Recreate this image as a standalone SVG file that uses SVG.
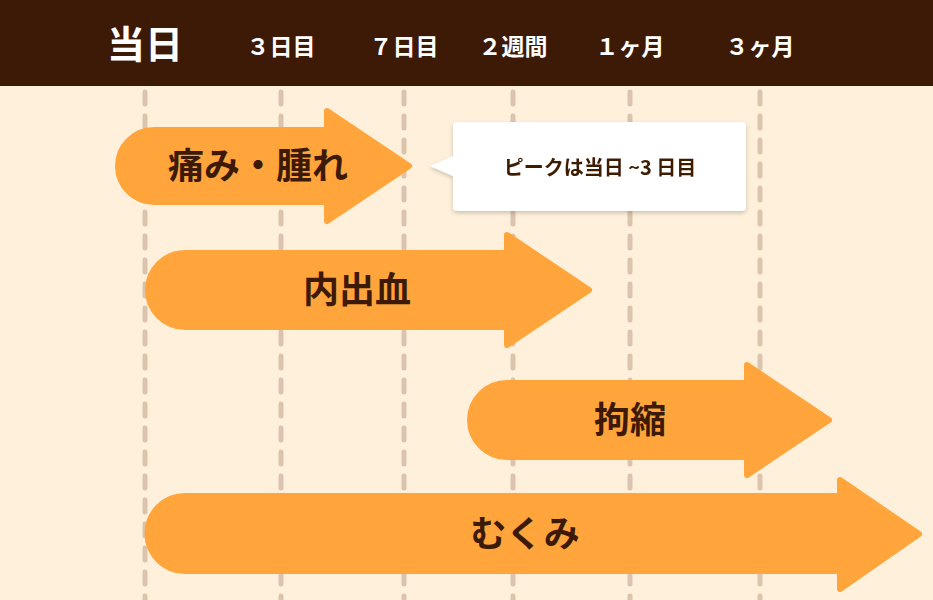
<svg xmlns="http://www.w3.org/2000/svg" width="933" height="600" viewBox="0 0 933 600">
<style>
.grid{stroke:#dcc3ae;stroke-width:5;stroke-dasharray:12 12;stroke-linecap:round}
.arr{fill:#ffa53c;stroke:#ffa53c;stroke-width:6;stroke-linejoin:round}
.hd{font-family:"Noto Sans CJK JP",sans-serif;font-weight:bold;fill:#fff;text-anchor:middle}
.lb{font-family:"Noto Sans CJK JP",sans-serif;font-weight:bold;fill:#3d1a05;text-anchor:middle;font-size:36px}
</style>
<defs><filter id="sh" x="-10%" y="-10%" width="120%" height="130%"><feDropShadow dx="0" dy="2" stdDeviation="2" flood-opacity="0.2"/></filter></defs>
<rect width="933" height="600" fill="#fff0db"/>
<g id="grid">
<line class="grid" x1="145" y1="92" x2="145" y2="600"/>
<line class="grid" x1="281" y1="92" x2="281" y2="600"/>
<line class="grid" x1="404" y1="92" x2="404" y2="600"/>
<line class="grid" x1="513" y1="92" x2="513" y2="600"/>
<line class="grid" x1="630" y1="92" x2="630" y2="600"/>
<line class="grid" x1="760" y1="92" x2="760" y2="600"/>
</g>
<g id="header">
<rect width="933" height="86" fill="#3d1a05"/>
<text class="hd" x="145" y="58" font-size="38">当日</text>
<text class="hd" x="281" y="55" font-size="23">３日目</text>
<text class="hd" x="404" y="55" font-size="23">７日目</text>
<text class="hd" x="513" y="55" font-size="23">２週間</text>
<text class="hd" x="630" y="55" font-size="23">１ヶ月</text>
<text class="hd" x="760" y="55" font-size="23">３ヶ月</text>
</g>
<g id="connectors"></g>
<g id="n1">
<path class="arr" d="M154,130 H327 V111 L409,166 L327,221 V202 H154 A36,36 0 0 1 154,130 Z"/>
<text class="lb" x="258" y="179">痛み・腫れ</text>
</g>
<g id="callout" filter="url(#sh)">
<path d="M458,122 H742 Q746,122 746,126 V207 Q746,211 742,211 H458 Q453,211 453,207 V176 L430,166 L453,156 V126 Q453,122 458,122 Z" fill="#fff"/>
<text x="600" y="175" font-family="Noto Sans CJK JP,sans-serif" font-weight="bold" font-size="20" fill="#3d1a05" text-anchor="middle">ピークは当日 ~3 日目</text>
</g>
<g id="n2">
<path class="arr" d="M185,253 H507 V235 L589,290 L507,345 V327 H185 A37,37 0 0 1 185,253 Z"/>
<text class="lb" x="357" y="303">内出血</text>
</g>
<g id="n3">
<path class="arr" d="M507,383 H747 V365 L829,420 L747,475 V457 H507 A37,37 0 0 1 507,383 Z"/>
<text class="lb" x="630" y="433">拘縮</text>
</g>
<g id="n4">
<path class="arr" d="M185,496 H840 V480 L919,534 L840,589 V571 H185 A37.5,37.5 0 0 1 185,496 Z"/>
<text class="lb" x="525" y="547">むくみ</text>
</g>
</svg>
